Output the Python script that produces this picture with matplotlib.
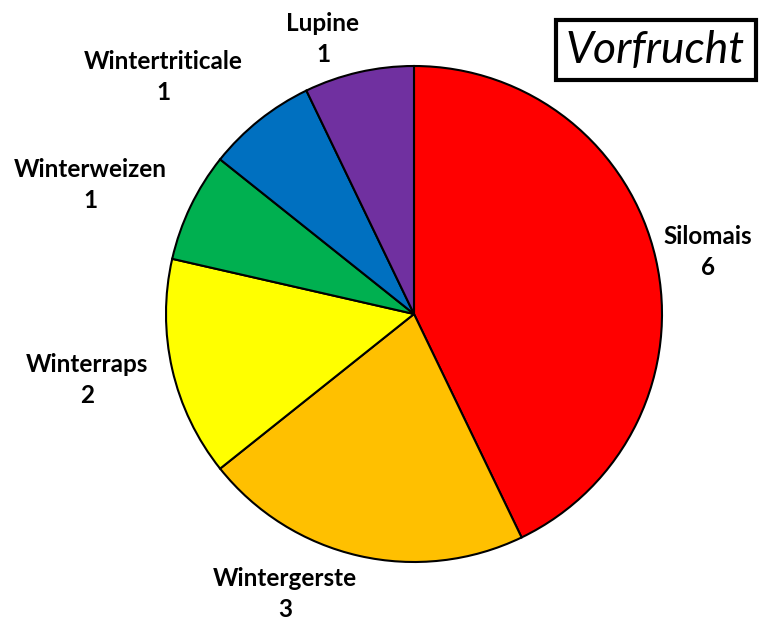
import matplotlib
matplotlib.use("Agg")
import matplotlib.pyplot as plt
from matplotlib.patches import Rectangle

# Vorfrucht counts
categories = ["Silomais", "Wintergerste", "Winterraps", "Winterweizen", "Wintertriticale", "Lupine"]
values = [6, 3, 2, 1, 1, 1]
colors = ["#FF0000", "#FFC000", "#FFFF00", "#00B050", "#0070C0", "#7030A0"]

# label anchor positions (figure pixels, origin top-left)
label_pos = [(708, 252), (285, 594), (87, 380), (90, 185), (163, 77), (323, 39)]

W, H = 777, 620
fig = plt.figure(figsize=(W / 100, H / 100), dpi=100)
ax = fig.add_axes([0, 0, 1, 1])

ax.pie(values, colors=colors, startangle=90, counterclock=False,
       center=(414, H - 314), radius=248,
       wedgeprops=dict(edgecolor="black", linewidth=1.5))
ax.set_xlim(0, W)
ax.set_ylim(0, H)
ax.set_aspect("equal")
ax.axis("off")

for name, val, (x, y) in zip(categories, values, label_pos):
    ax.text(x, H - y, f"{name}\n{val}", ha="center", va="center",
            fontsize=17.5, fontweight="bold", family="Lato", linespacing=1.4)

ax.add_patch(Rectangle((556, H - 80), 200, 60, fill=False, edgecolor="black", linewidth=3))
ax.text(655, H - 51, "Vorfrucht", ha="center", va="center",
        fontsize=32, style="italic", family="Lato")

fig.savefig("out.png", dpi=100)
